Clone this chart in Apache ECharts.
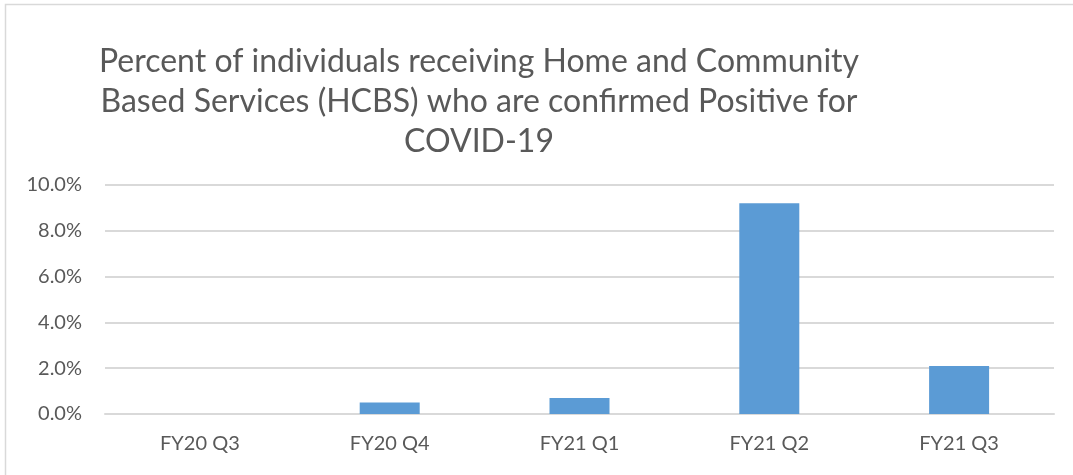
<!DOCTYPE html>
<html>
<head>
<meta charset="utf-8">
<script src="https://cdn.jsdelivr.net/npm/echarts@6/dist/echarts.min.js"></script>
<style>
  html, body { margin: 0; padding: 0; background: #fff; }
  #chart { width: 1073px; height: 475px; }
</style>
</head>
<body>
<div id="chart"></div>
<script>
// Data
const quarters = ['FY20 Q3', 'FY20 Q4', 'FY21 Q1', 'FY21 Q2', 'FY21 Q3'];
const percentPositive = [0, 0.5, 0.7, 9.2, 2.1];
const titleLines = [
    'Percent of individuals receiving Home and Community',
    'Based Services (HCBS) who are confirmed Positive for',
    'COVID-19'
];

const fontFamily = 'Lato, "Open Sans", sans-serif';
const textColor = '#595959';

const chart = echarts.init(document.getElementById('chart'));

chart.setOption({
    animation: false,
    textStyle: { fontFamily: fontFamily, color: textColor },
    graphic: [
        {
            // outer chart frame (left and top edges are visible)
            type: 'rect',
            shape: { x: 5.5, y: 4.5, width: 1200, height: 600 },
            style: { fill: 'none', stroke: '#d9d9d9', lineWidth: 1.5 },
            silent: true
        },
        {
            type: 'text',
            x: 479,
            y: 42,
            style: {
                text: titleLines.join('\n'),
                font: '32px ' + fontFamily,
                fill: textColor,
                textAlign: 'center',
                lineHeight: 40
            }
        }
    ],
    grid: {
        left: 105,
        right: 19,
        top: 185,
        bottom: 61
    },
    xAxis: {
        type: 'category',
        data: quarters,
        axisLine: { lineStyle: { color: '#d9d9d9', width: 2 } },
        axisTick: { show: false },
        axisLabel: {
            color: textColor,
            fontSize: 20,
            margin: 20
        }
    },
    yAxis: {
        type: 'value',
        min: 0,
        max: 10,
        interval: 2,
        axisLine: { show: false },
        axisTick: { show: false },
        splitLine: { lineStyle: { color: '#d9d9d9', width: 2 } },
        axisLabel: {
            color: textColor,
            fontSize: 20,
            margin: 23,
            formatter: (v) => v.toFixed(1) + '%'
        }
    },
    series: [
        {
            type: 'bar',
            data: percentPositive,
            barWidth: 60,
            itemStyle: { color: '#5b9bd5' }
        }
    ]
});
</script>
</body>
</html>
